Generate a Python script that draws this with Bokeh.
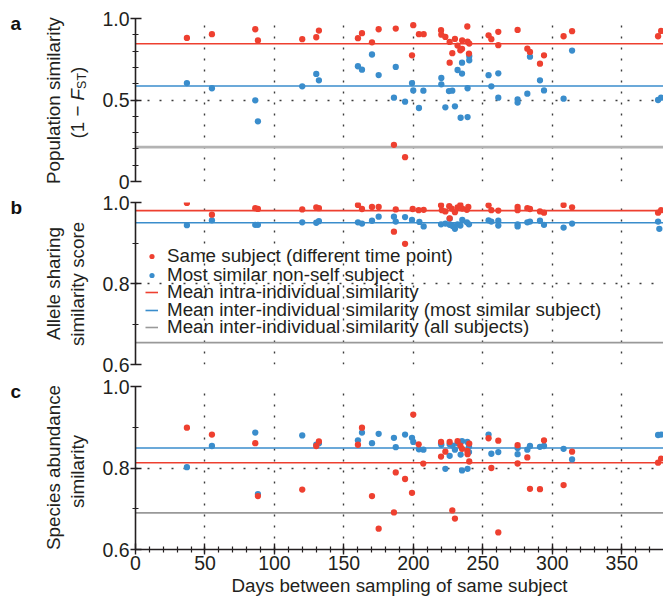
import math
from bokeh.plotting import figure
from bokeh.layouts import column, row
from bokeh.models import (Range1d, FixedTicker, Grid, Legend, LegendItem, PrintfTickFormatter)
from bokeh.core.properties import value
from bokeh.embed import file_html
from bokeh.resources import INLINE

# ---------------- data ----------------
x_major = [0, 50, 100, 150, 200, 250, 300, 350]
x_minor = [v for v in range(10, 380, 10)]

# panel a: population similarity (1 - Fst)
a_days_same = [37.0, 55.0, 86.2, 88.1, 120.0, 130.1, 132.0, 160.1, 163.0, 170.2, 175.0, 186.0,
               187.3, 194.0, 199.0, 199.9, 204.0, 207.4, 219.9, 220.1, 223.0, 226.1, 226.1, 228.0,
               229.9, 231.8, 233.8, 235.0, 235.1, 238.8, 239.0, 240.2, 240.0, 254.1, 256.1, 261.1,
               261.1, 275.0, 282.0, 283.9, 291.1, 294.0, 308.1, 314.2, 376.1, 378.3]
a_sim_same = [0.881, 0.904, 0.934, 0.865, 0.873, 0.885, 0.926, 0.879, 0.910, 0.854, 0.934, 0.225,
              0.938, 0.149, 0.774, 0.959, 0.904, 0.904, 0.928, 0.901, 0.887, 0.856, 0.729, 0.787,
              0.875, 0.834, 0.805, 0.814, 0.865, 0.951, 0.858, 0.846, 0.785, 0.897, 0.873, 0.918,
              0.836, 0.930, 0.815, 0.795, 0.723, 0.774, 0.891, 0.922, 0.891, 0.924]
a_days_other = [37.0, 55.0, 86.2, 88.1, 120.0, 130.1, 132.0, 160.1, 163.0, 170.2, 175.0, 186.0,
                187.3, 194.0, 199.0, 199.9, 204.0, 207.2, 220.1, 220.1, 223.0, 225.6, 228.0, 229.9,
                231.8, 235.0, 235.0, 234.0, 239.0, 239.0, 240.2, 240.2, 254.1, 256.1, 261.1, 261.1,
                275.0, 275.0, 282.0, 283.9, 291.1, 294.0, 308.1, 314.2, 376.1, 378.3]
a_sim_other = [0.604, 0.572, 0.498, 0.369, 0.584, 0.660, 0.621, 0.707, 0.686, 0.779, 0.653, 0.514,
               0.703, 0.490, 0.604, 0.559, 0.451, 0.557, 0.635, 0.596, 0.455, 0.555, 0.557, 0.461,
               0.684, 0.662, 0.729, 0.391, 0.395, 0.572, 0.770, 0.744, 0.652, 0.584, 0.664, 0.514,
               0.504, 0.484, 0.539, 0.766, 0.621, 0.559, 0.508, 0.803, 0.500, 0.514]

# panel b: allele sharing similarity score
b_days_same = [37.0, 55.0, 86.2, 88.1, 120.0, 130.1, 132.0, 160.1, 163.0, 170.2, 175.0, 186.0,
               187.3, 194.0, 199.5, 203.8, 207.4, 219.9, 220.5, 223.0, 225.8, 226.1, 227.5, 229.9,
               231.8, 233.8, 235.2, 238.5, 239.5, 254.1, 256.1, 261.1, 275.0, 275.0, 282.0, 283.9,
               291.1, 294.0, 308.1, 314.2, 376.1, 378.3]
b_sim_same = [0.999, 0.970, 0.986, 0.984, 0.983, 0.988, 0.986, 0.994, 0.984, 0.989, 0.989, 0.928,
              0.983, 0.898, 0.984, 0.981, 0.982, 0.993, 0.981, 0.978, 0.991, 0.961, 0.985, 0.976,
              0.988, 0.994, 0.985, 0.982, 0.989, 0.993, 0.981, 0.980, 0.989, 0.981, 0.986, 0.984,
              0.978, 0.975, 0.994, 0.988, 0.975, 0.981]
b_days_other = [37.0, 55.0, 86.2, 88.1, 120.0, 130.1, 132.0, 160.1, 163.0, 170.2, 175.0, 186.0,
                187.3, 194.0, 199.0, 204.3, 207.4, 219.9, 223.0, 226.1, 226.1, 228.2, 229.9, 231.8,
                233.8, 235.2, 238.5, 240.0, 254.1, 256.1, 261.1, 261.1, 275.0, 275.0, 282.0, 283.9,
                291.1, 294.0, 308.1, 314.2, 376.1, 377.0]
b_sim_other = [0.944, 0.956, 0.945, 0.945, 0.951, 0.950, 0.954, 0.951, 0.948, 0.955, 0.965, 0.965,
               0.953, 0.964, 0.957, 0.952, 0.941, 0.946, 0.948, 0.960, 0.945, 0.942, 0.935, 0.946,
               0.943, 0.957, 0.951, 0.946, 0.956, 0.953, 0.955, 0.943, 0.946, 0.941, 0.951, 0.953,
               0.955, 0.945, 0.938, 0.948, 0.953, 0.935]

# panel c: species abundance similarity
c_days_same = [37.0, 55.0, 86.2, 88.1, 120.0, 130.1, 132.0, 160.1, 163.0, 170.2, 175.0, 186.0,
               187.3, 194.0, 199.0, 199.9, 203.8, 207.1, 219.9, 219.9, 223.0, 226.1, 228.0, 229.9,
               231.8, 233.8, 235.0, 238.8, 239.0, 240.2, 240.2, 254.1, 256.1, 261.1, 261.1, 275.0,
               275.0, 282.0, 283.9, 291.1, 294.0, 308.1, 314.2, 376.1, 378.3]
c_sim_same = [0.899, 0.882, 0.861, 0.731, 0.747, 0.854, 0.865, 0.857, 0.899, 0.731, 0.651, 0.691,
              0.789, 0.773, 0.739, 0.931, 0.858, 0.811, 0.864, 0.828, 0.840, 0.864, 0.696, 0.676,
              0.866, 0.855, 0.847, 0.842, 0.834, 0.860, 0.816, 0.873, 0.800, 0.867, 0.642, 0.856,
              0.811, 0.826, 0.749, 0.748, 0.868, 0.758, 0.840, 0.813, 0.823]
c_days_other = [37.0, 55.0, 86.2, 88.1, 120.0, 130.1, 132.0, 160.1, 163.0, 170.2, 175.0, 186.0,
                187.3, 194.0, 199.0, 199.9, 204.0, 207.2, 219.9, 220.1, 223.0, 226.1, 226.1, 228.2,
                229.9, 231.8, 234.0, 235.0, 235.0, 238.8, 239.0, 240.0, 240.0, 254.1, 256.1, 261.1,
                275.0, 275.0, 282.0, 283.9, 291.1, 294.0, 308.1, 314.2, 376.1, 378.3]
c_sim_other = [0.802, 0.854, 0.887, 0.736, 0.880, 0.857, 0.861, 0.868, 0.887, 0.861, 0.884, 0.874,
               0.851, 0.882, 0.874, 0.864, 0.846, 0.845, 0.861, 0.857, 0.798, 0.858, 0.830, 0.855,
               0.845, 0.861, 0.833, 0.866, 0.794, 0.864, 0.798, 0.839, 0.853, 0.882, 0.835, 0.839,
               0.849, 0.834, 0.845, 0.854, 0.852, 0.854, 0.847, 0.821, 0.881, 0.882]

# mean lines per panel (a, b, c)
mean_intra = [0.845, 0.980, 0.813]
mean_inter_similar = [0.586, 0.950, 0.849]
mean_inter_all = [0.211, 0.654, 0.690]

legend_labels = ["Same subject (different time point)",
                 "Most similar non-self subject",
                 "Mean intra-individual similarity",
                 "Mean inter-individual similarity (most similar subject)",
                 "Mean inter-individual similarity (all subjects)"]

# ---------------- style / layout ----------------
FONT = "Liberation Sans"
INK = "#231f20"
RED = "#ee4030"
BLUE = "#3a8dcc"
GREY_A = "#b3b3b3"
GREY_BC = "#999999"
GRID = "#3c3c3c"
LAB_W = 95          # width of the label strip on the left
MAIN_W = 568        # width of each plot figure
AXIS_B = 40         # left border of the plot figure (y axis + tick labels)
X_END = 380
X_SPAN = [0, X_END]
LBL_FS = "18.8px"
TICK_FS = "19.5px"
HA, HB, HC = 191, 183, 224
H_ALL = HA + HB + HC


def make_panel(h, top, bottom, y0, y1, y_major, y_minor, x_axis):
    p = figure(width=MAIN_W, height=h, x_range=Range1d(0, X_END), y_range=Range1d(y0, y1),
               output_backend="svg", toolbar_location=None, title=None,
               x_axis_location="below" if x_axis else None, y_axis_location="left",
               min_border_left=AXIS_B, min_border_right=0, min_border_top=top,
               min_border_bottom=bottom)
    p.outline_line_color = None
    p.background_fill_color = "white"
    p.border_fill_color = "white"
    for r in list(p.center):
        r.visible = False
    p.add_layout(Grid(dimension=0, ticker=FixedTicker(ticks=x_major), grid_line_color=GRID,
                      grid_line_width=1.4, grid_line_dash="2 9"))
    p.add_layout(Grid(dimension=1, ticker=FixedTicker(ticks=y_major), grid_line_color=GRID,
                      grid_line_width=1.4, grid_line_dash="2 10"))
    axes = list(p.yaxis) + (list(p.xaxis) if x_axis else [])
    for ax in axes:
        ax.axis_line_color = INK
        ax.axis_line_width = 1.6
        ax.major_tick_line_color = INK
        ax.major_tick_line_width = 1.4
        ax.major_tick_in = 6
        ax.major_tick_out = 5
        ax.minor_tick_line_color = INK
        ax.minor_tick_line_width = 1.2
        ax.minor_tick_in = 3
        ax.minor_tick_out = 3
        ax.major_label_text_font = FONT
        ax.major_label_text_font_size = TICK_FS
        ax.major_label_text_color = INK
        ax.major_label_standoff = 1
    p.yaxis[0].ticker = FixedTicker(ticks=y_major, minor_ticks=y_minor)
    if x_axis:
        xa = p.xaxis[0]
        xa.ticker = FixedTicker(ticks=x_major, minor_ticks=x_minor)
        xa.axis_label = "Days between sampling of same subject"
        xa.axis_label_text_font = FONT
        xa.axis_label_text_font_size = LBL_FS
        xa.axis_label_text_font_style = "normal"
        xa.axis_label_text_color = INK
        xa.axis_label_standoff = 2
    return p


def draw_series(p, i, days_same, sim_same, days_other, sim_other, grey_color, grey_width):
    g = p.line(X_SPAN, [mean_inter_all[i]] * 2, line_color=grey_color, line_width=grey_width)
    b = p.line(X_SPAN, [mean_inter_similar[i]] * 2, line_color=BLUE, line_width=1.6)
    r = p.line(X_SPAN, [mean_intra[i]] * 2, line_color=RED, line_width=1.6)
    bo = p.scatter(days_other, sim_other, size=6.3, fill_color=BLUE, line_color=None)
    rs = p.scatter(days_same, sim_same, size=6.3, fill_color=RED, line_color=None)
    return rs, bo, r, b, g


# one tall strip on the left holds the panel letters and the y-axis titles
strip = figure(width=LAB_W, height=H_ALL, x_range=Range1d(0, LAB_W), y_range=Range1d(0, H_ALL),
               output_backend="svg", toolbar_location=None, title=None,
               x_axis_location=None, y_axis_location=None,
               min_border_left=0, min_border_right=0, min_border_top=0, min_border_bottom=0)
strip.outline_line_color = None
strip.background_fill_color = "white"
strip.border_fill_color = "white"
for _r in list(strip.center):
    _r.visible = False


def strip_text(x, page_y, txt, size=LBL_FS, style="normal", angle=0.0, align="left",
               color=INK):
    strip.text(x=[x], y=[H_ALL - page_y], text=[txt], angle=angle, text_font=value(FONT),
               text_font_size=value(size), text_font_style=value(style),
               text_align=value(align), text_baseline=value("alphabetic"), text_color=color)


UP = math.pi / 2

# ---------------- panel a ----------------
pa = make_panel(HA, 18, 10, 0, 1.0, [0, 0.5, 1.0],
                [0.1, 0.2, 0.3, 0.4, 0.6, 0.7, 0.8, 0.9], False)
pa.yaxis[0].major_label_overrides = {0: "0", 0.5: "0.5", 1: "1.0"}
draw_series(pa, 0, a_days_same, a_sim_same, a_days_other, a_sim_other, GREY_A, 2.6)
strip_text(10, 23, "a", size="19px", style="bold", color="#111111")
strip_text(53.3, 100, "Population similarity", angle=UP, align="center")
pieces = [("(1 \u2212 ", LBL_FS, "normal", 76.8, 38.1),
          ("F", LBL_FS, "italic", 76.8, 11.5),
          ("ST", "12.5px", "normal", 81.0, 16.0),
          (")", LBL_FS, "normal", 76.8, 6.3)]
ypos = 138.0
for txt, fs, style, xb, w in pieces:
    strip_text(xb, ypos, txt, size=fs, style=style, angle=UP, align="left")
    ypos -= w

# ---------------- panel b ----------------
pb = make_panel(HB, 11, 10, 0.6, 1.0, [0.6, 0.8, 1.0], [0.7, 0.9], False)
pb.yaxis[0].formatter = PrintfTickFormatter(format="%.1f")
b_renderers = draw_series(pb, 1, b_days_same, b_sim_same, b_days_other, b_sim_other,
                          GREY_BC, 1.6)
# one single-item legend per row so the rows can sit as tightly as in the reference
legend_offsets = [97, 78, 61, 43, 26]
for lbl, rend, yoff in zip(legend_labels, b_renderers, legend_offsets):
    pb.add_layout(Legend(items=[LegendItem(label=lbl, renderers=[rend])],
                         location=(10, yoff), orientation="vertical",
                         background_fill_alpha=0, border_line_color=None, padding=0,
                         margin=0, spacing=0, glyph_width=13, glyph_height=16,
                         label_height=16, label_standoff=9, label_text_font=FONT,
                         label_text_font_size=LBL_FS, label_text_color=INK))
strip_text(10, 206.5, "b", size="19px", style="bold", color="#111111")
strip_text(53.3, 283.0, "Allele sharing", angle=UP, align="center")
strip_text(76.8, 283.5, "similarity score", angle=UP, align="center")

# ---------------- panel c ----------------
pc = make_panel(HC, 12, 0, 0.6, 1.0, [0.6, 0.8, 1.0], [0.7, 0.9], True)
pc.yaxis[0].formatter = PrintfTickFormatter(format="%.1f")
draw_series(pc, 2, c_days_same, c_sim_same, c_days_other, c_sim_other, GREY_BC, 1.6)
strip_text(10, 390.5, "c", size="19px", style="bold", color="#111111")
strip_text(53.3, 467.0, "Species abundance", angle=UP, align="center")
strip_text(76.8, 471.0, "similarity", angle=UP, align="center")

layout = row(strip, column(pa, pb, pc, spacing=0), spacing=0)
open("out.html", "w").write(file_html(layout, INLINE))
